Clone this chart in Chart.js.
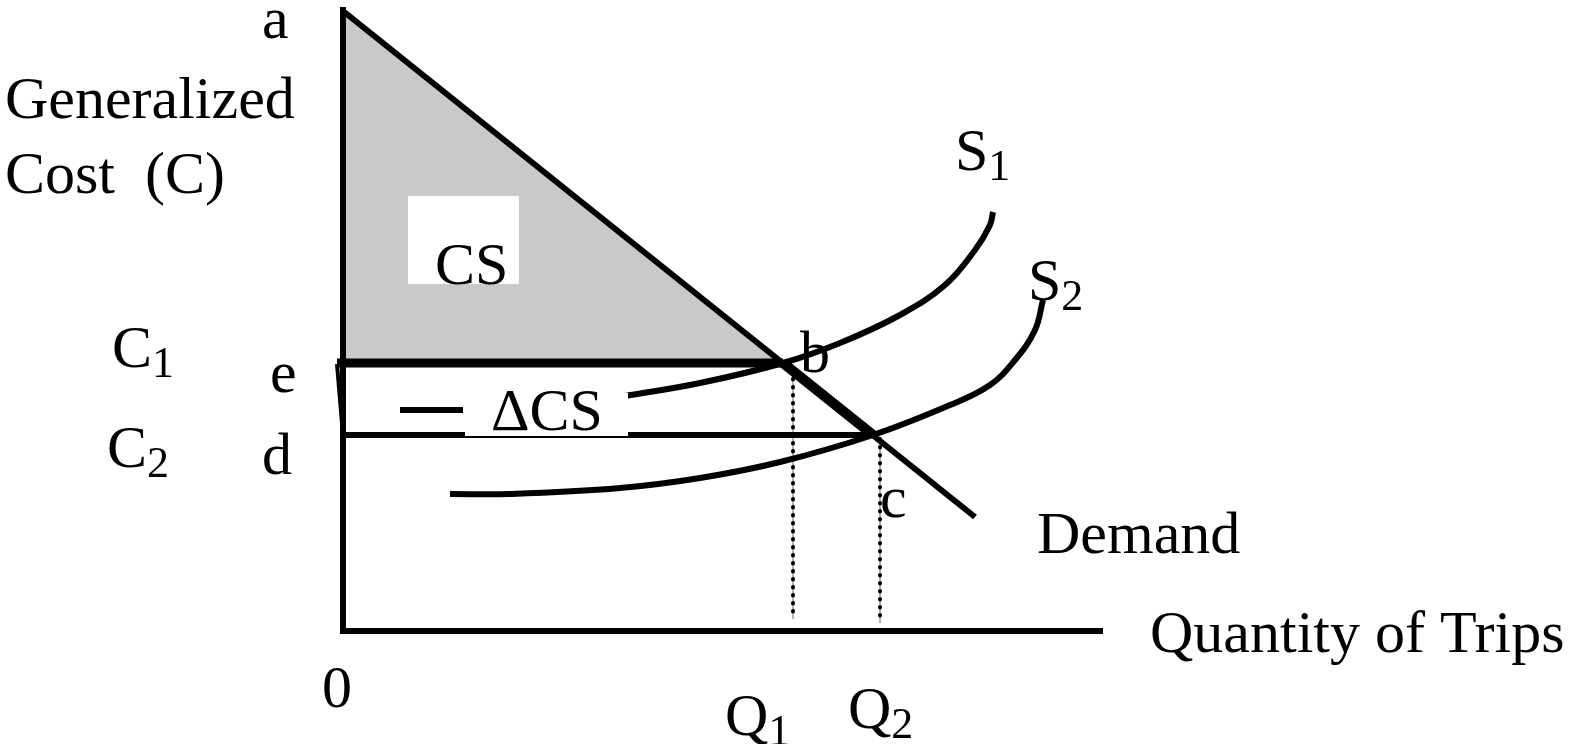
<!DOCTYPE html>
<html>
<head>
<meta charset="utf-8">
<script src="https://cdn.jsdelivr.net/npm/chart.js@4"></script>
<style>
  body { margin: 0; background: #fff; }
  #wrap { width: 1572px; height: 744px; }
</style>
</head>
<body>
<div id="wrap"><canvas id="cChart"></canvas></div>
<script>
// quantity (x) / generalized cost (y)
const pA = [0, 62.0], pB = [44.0, 26.8], pC = [53.0, 19.6];
const demandEnd = [63.2, 11.4];
const q1 = 45.0, q2 = 53.7;
const s1X = [28.2, 35.7, 44.0, 49.7, 55.7, 60.2, 63.2, 64.7, 65.0];
const s1Y = [23.5, 24.8, 26.8, 28.8, 31.6, 34.6, 38.1, 40.6, 41.9];
const s2X = [10.7, 16.7, 27.7, 35.7, 43.7, 53.0, 60.7, 64.7, 67.2, 69.2, 70.0];
const s2Y = [13.7, 13.7, 14.3, 15.3, 16.9, 19.6, 22.6, 24.6, 27.1, 30.1, 33.1];
const xAxisEnd = 75.7, yAxisTop = 62.1;

// text labels: [text, subscript, x, y] (left / baseline, data units)
const labels = [
  ['a', '', -8.1, 59.3],
  ['Generalized', '', -33.8, 51.3],
  ['Cost  (C)', '', -33.8, 43.8],
  ['CS', '', 9.2, 34.7],
  ['S', '1', 61.2, 46.1],
  ['S', '2', 68.5, 33.1],
  ['C', '1', -23.1, 26.4],
  ['e', '', -7.3, 23.9],
  ['C', '2', -23.6, 16.4],
  ['d', '', -8.1, 15.7],
  ['b', '', 45.7, 25.9],
  ['c', '', 53.7, 11.4],
  ['ΔCS', '', 14.8, 20.1],
  ['Demand', '', 69.4, 7.8],
  ['Quantity of Trips', '', 80.7, -2.1],
  ['0', '', -2.1, -7.6],
  ['Q', '1', 38.2, -10.4],
  ['Q', '2', 50.5, -9.7]
];
// white boxes behind labels: [x0, y0, x1, y1]
const boxes = [[6.5, 43.5, 17.6, 34.7], [12.2, 23.8, 28.5, 19.5]];

const pts = (xs, ys) => xs.map((x, i) => ({x: x, y: ys[i]}));
const seg = (p, q) => [{x: p[0], y: p[1]}, {x: q[0], y: q[1]}];

function line(data, w, extra) {
  return Object.assign({
    data: data, showLine: true, borderColor: '#000', borderWidth: w,
    pointRadius: 0, fill: false, tension: 0
  }, extra || {});
}

const dots = {borderDash: [0.5, 7.5], borderCapStyle: 'round'};

// listed in paint order (first = bottom); Chart.js paints index 0 last
const layers = [
  line(seg(pA, pB), 0, {fill: {value: pB[1]}, backgroundColor: '#c9c9c9'}),
  line(seg([q1, 26.0], [q1, 1.2]), 1, {borderColor: '#aaa'}),
  line(seg([q2, 19.2], [q2, 0.8]), 1, {borderColor: '#aaa'}),
  line(seg([q1, 26.0], [q1, 1.2]), 4, dots),
  line(seg([q2, 19.2], [q2, 0.8]), 4, dots),
  line(seg([0, 0], [0, yAxisTop]), 6, {borderCapStyle: 'square'}),
  line(seg([0, 0], [xAxisEnd, 0]), 6, {borderCapStyle: 'square'}),
  line(seg([-0.6, pB[1] - 0.1], [0, pC[1]]), 4),
  line(seg([0, pC[1]], pC), 6),
  line(pts(s1X, s1Y), 6, {tension: 0.4}),
  line(seg([5.7, 22.1], [12.0, 22.1]), 6),
  line(pts(s2X, s2Y), 6, {tension: 0.4}),
  line(seg(pA, demandEnd), 6),
  line(seg(pB, pC), 10),
  line(seg([-0.6, pB[1]], pB), 9)
];
const datasets = layers.slice().reverse();

const labelPlugin = {
  id: 'labels',
  afterDatasetsDraw(chart) {
    const ctx = chart.ctx, xs = chart.scales.x, ys = chart.scales.y;
    ctx.save();
    ctx.fillStyle = '#fff';
    boxes.forEach(b => {
      const x0 = xs.getPixelForValue(b[0]), y0 = ys.getPixelForValue(b[1]);
      ctx.fillRect(x0, y0, xs.getPixelForValue(b[2]) - x0, ys.getPixelForValue(b[3]) - y0);
    });
    ctx.fillStyle = '#000';
    ctx.textBaseline = 'alphabetic';
    labels.forEach(l => {
      const px = xs.getPixelForValue(l[2]), py = ys.getPixelForValue(l[3]);
      ctx.font = '60px "Liberation Serif"';
      ctx.fillText(l[0], px, py);
      if (l[1]) {
        const w = ctx.measureText(l[0]).width;
        ctx.font = '44px "Liberation Serif"';
        ctx.fillText(l[1], px + w, py + 10);
      }
    });
    ctx.restore();
  }
};

const cChart = new Chart(document.getElementById('cChart'), {
  type: 'scatter',
  data: {datasets: datasets},
  options: {
    responsive: true,
    maintainAspectRatio: false,
    animation: false,
    layout: {padding: 0},
    plugins: {legend: {display: false}, tooltip: {enabled: false}},
    scales: {
      x: {type: 'linear', display: false, min: -34.3, max: 122.9},
      y: {type: 'linear', display: false, min: -11.3, max: 63.1}
    }
  },
  plugins: [labelPlugin]
});
</script>
</body>
</html>
